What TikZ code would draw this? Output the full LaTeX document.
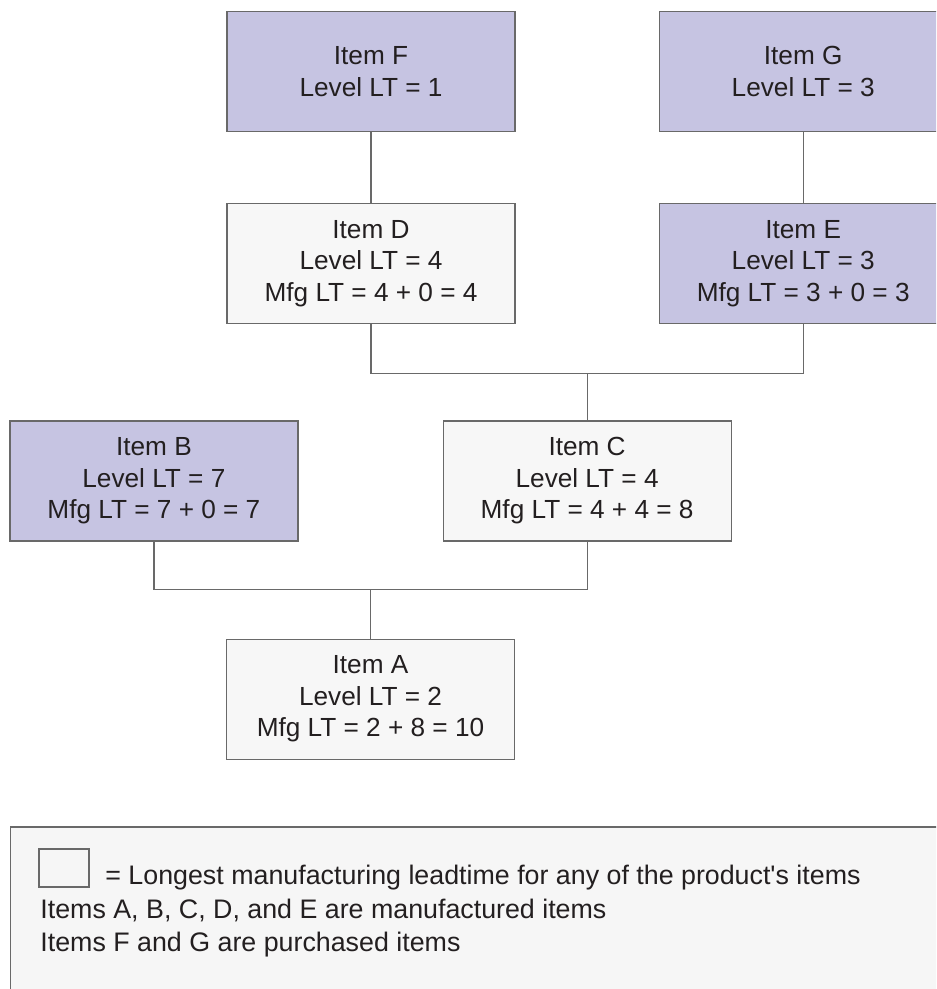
\documentclass[tikz,border=0pt]{standalone}
\usepackage{fontspec}
\setmainfont{Liberation Sans}
\newfontfamily\itemfont{Liberation Sans}
\usetikzlibrary{positioning,calc}
\definecolor{BoxLine}{RGB}{105,105,105}
\definecolor{LavenderBand}{RGB}{198,196,226}
\definecolor{PaleBand}{RGB}{247,247,247}
\definecolor{NoteBand}{RGB}{246,246,246}
\definecolor{InkGray}{RGB}{35,31,32}
\tikzset{
  link/.style={line width=0.6pt,draw=BoxLine},
  itembox/.style={draw=BoxLine,line width=0.6pt,fill=PaleBand,inner sep=0pt,
    minimum width=144pt,minimum height=60pt,align=center,text=InkGray,
    font=\itemfont\fontsize{13.1pt}{15.75pt}\selectfont},
  longbox/.style={itembox,fill=LavenderBand},
  keybox/.style={draw=BoxLine,line width=0.6pt,fill=NoteBand,inner sep=0pt,
    minimum width=25pt,minimum height=19pt},
  notetext/.style={anchor=base west,inner sep=0pt,text=InkGray,
    font=\itemfont\fontsize{13.4pt}{16pt}\selectfont}
}
\begin{document}
\begin{tikzpicture}[x=0.5pt,y=-0.5pt,node distance=35.5pt]
  \useasboundingbox (0,0) rectangle (936,989);
  \clip (0,0) rectangle (936,989);
  \node[longbox] (itemF) at (371,71.5) {Item F\\Level LT = 1};
  \node[longbox,right=71.5pt of itemF] (itemG) {Item G\\Level LT = 3};
  \node[itembox,below=of itemF] (itemD) {Item D\\Level LT = 4\\Mfg LT = 4 + 0 = 4};
  \node[longbox,below=of itemG] (itemE) {Item E\\Level LT = 3\\Mfg LT = 3 + 0 = 3};
  \coordinate (deJoin) at ($(itemD.south)!0.5!(itemE.south)+(0,49)$);
  \node[itembox,below=23.5pt of deJoin] (itemC) {Item C\\Level LT = 4\\Mfg LT = 4 + 4 = 8};
  \node[longbox,left=72pt of itemC] (itemB) {Item B\\Level LT = 7\\Mfg LT = 7 + 0 = 7};
  \coordinate (bcJoin) at ($(itemB.south)!0.5!(itemC.south)+(0,48)$);
  \node[itembox,below=24.5pt of bcJoin] (itemA) {Item A\\Level LT = 2\\Mfg LT = 2 + 8 = 10};
  \draw[link] (itemF) -- (itemD);
  \draw[link] (itemG) -- (itemE);
  \draw[link] (itemD.south) |- (deJoin) -| (itemE.south);
  \draw[link] (deJoin) -- (itemC.north);
  \draw[link] (itemB.south) |- (bcJoin) -| (itemC.south);
  \draw[link] (bcJoin) -- (itemA.north);
  % legend
  \draw[link,fill=NoteBand] (10.5,827) rectangle (960,1010);
  \node[keybox] (keySquare) at (64,868) {};
  \node[notetext] (keyNote) at (105,884) {= Longest manufacturing leadtime for any of the product's items};
  \node[notetext] (madeNote) at (40,918) {Items A, B, C, D, and E are manufactured items};
  \node[notetext] (boughtNote) at (40,951) {Items F and G are purchased items};
\end{tikzpicture}
\end{document}
